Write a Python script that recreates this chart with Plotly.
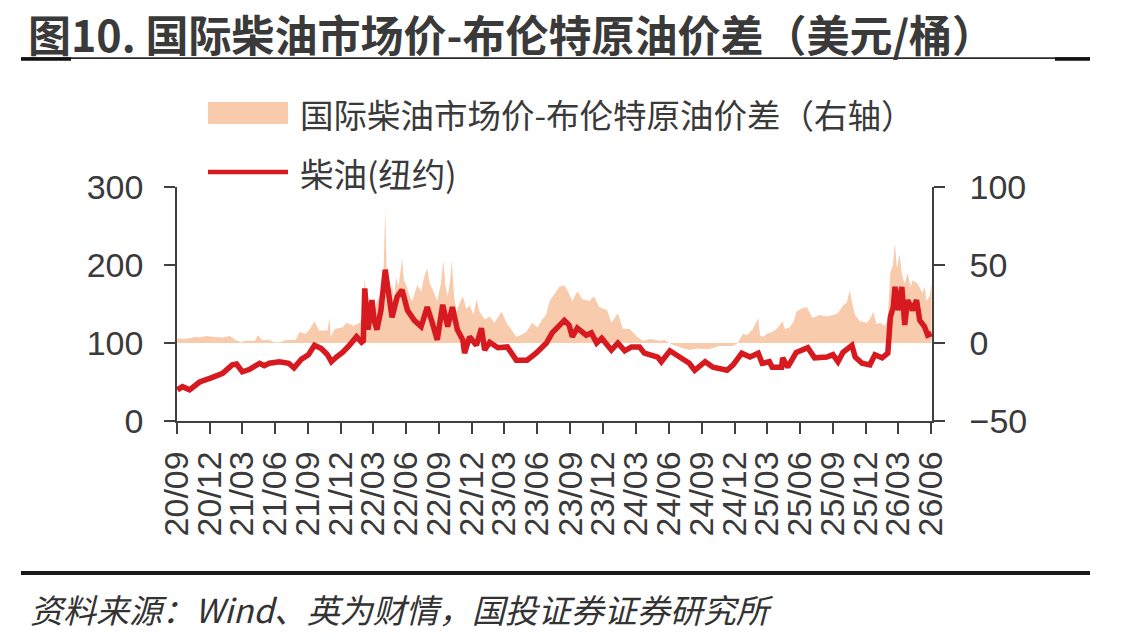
import plotly.graph_objects as go

# ---------------- data ----------------
diesel_dates = [
    "2020-09-01", "2020-09-15", "2020-10-05", "2020-11-02", "2020-12-08", "2021-01-05",
    "2021-02-01", "2021-02-13", "2021-03-01", "2021-03-20", "2021-04-18", "2021-05-01",
    "2021-05-15", "2021-06-12", "2021-07-08", "2021-07-23", "2021-08-12", "2021-09-01",
    "2021-09-18", "2021-10-07", "2021-10-24", "2021-11-04", "2021-11-18", "2021-12-05",
    "2021-12-24", "2022-01-13", "2022-01-27", "2022-02-01", "2022-02-05", "2022-02-14",
    "2022-02-25", "2022-03-03", "2022-03-11", "2022-03-22", "2022-04-03", "2022-04-14",
    "2022-04-22", "2022-05-06", "2022-05-20", "2022-06-04", "2022-06-23", "2022-07-12",
    "2022-07-29", "2022-08-12", "2022-08-26", "2022-09-10", "2022-09-24", "2022-10-07",
    "2022-10-21", "2022-11-05", "2022-11-10", "2022-11-24", "2022-12-13", "2022-12-27",
    "2023-01-05", "2023-01-19", "2023-02-11", "2023-03-09", "2023-04-03", "2023-05-03",
    "2023-05-28", "2023-06-26", "2023-07-12", "2023-08-15", "2023-08-28", "2023-09-06",
    "2023-09-20", "2023-10-15", "2023-10-29", "2023-11-13", "2023-11-27", "2023-12-24",
    "2024-01-11", "2024-01-30", "2024-02-18", "2024-03-11", "2024-03-25", "2024-05-01",
    "2024-05-11", "2024-06-04", "2024-07-01", "2024-07-28", "2024-08-12", "2024-09-10",
    "2024-10-02", "2024-11-10", "2024-11-27", "2024-12-21", "2025-01-13", "2025-02-05",
    "2025-02-16", "2025-03-08", "2025-03-16", "2025-04-11", "2025-04-14", "2025-04-28",
    "2025-05-22", "2025-06-23", "2025-07-12", "2025-08-15", "2025-09-01", "2025-09-15",
    "2025-09-29", "2025-10-24", "2025-11-02", "2025-11-21", "2025-12-13", "2025-12-27",
    "2026-01-16", "2026-02-01", "2026-02-08", "2026-02-16", "2026-02-21", "2026-03-01",
    "2026-03-12", "2026-03-20", "2026-03-28", "2026-04-11", "2026-04-22", "2026-05-01",
    "2026-05-14", "2026-05-23", "2026-06-03",
]
diesel_ny = [
    40, 44, 40, 50, 56, 61,
    72, 73, 63, 66, 74, 71,
    74, 76, 74, 68, 79, 85,
    97, 93, 85, 76, 82, 88,
    97, 108, 101, 103, 170, 117,
    155, 129, 117, 142, 194, 151,
    133, 159, 168, 142, 129, 121,
    146, 126, 104, 149, 121, 146,
    117, 104, 87, 108, 97, 119,
    91, 101, 94, 95, 78, 78,
    87, 100, 113, 129, 123, 108,
    119, 110, 113, 100, 106, 91,
    100, 90, 95, 95, 87, 82,
    76, 90, 81, 74, 65, 76,
    69, 65, 72, 87, 82, 87,
    74, 76, 69, 69, 81, 69,
    88, 94, 81, 82, 85, 76,
    88, 97, 82, 74, 72, 85,
    81, 87, 133, 146, 172, 142,
    172, 123, 155, 142, 155, 129,
    121, 110, 112,
]

spread_dates = [
    "2020-09-01", "2020-09-20", "2020-10-05", "2020-10-20", "2020-11-01", "2020-11-20",
    "2020-12-08", "2020-12-25", "2021-01-05", "2021-01-25", "2021-02-10", "2021-02-25",
    "2021-03-10", "2021-04-05", "2021-04-13", "2021-04-25", "2021-05-15", "2021-05-30",
    "2021-06-12", "2021-07-01", "2021-07-28", "2021-08-07", "2021-08-25", "2021-09-05",
    "2021-09-18", "2021-10-01", "2021-10-24", "2021-10-30", "2021-11-02", "2021-11-13",
    "2021-12-05", "2021-12-16", "2022-01-05", "2022-01-22", "2022-01-28", "2022-02-05",
    "2022-02-10", "2022-02-19", "2022-03-03", "2022-03-10", "2022-03-17", "2022-03-28",
    "2022-04-03", "2022-04-08", "2022-04-14", "2022-04-22", "2022-04-27", "2022-05-03",
    "2022-05-10", "2022-05-20", "2022-05-25", "2022-06-01", "2022-06-10", "2022-06-17",
    "2022-07-01", "2022-07-12", "2022-07-20", "2022-07-29", "2022-08-05", "2022-08-12",
    "2022-08-26", "2022-09-05", "2022-09-12", "2022-09-18", "2022-09-24", "2022-10-01",
    "2022-10-05", "2022-10-12", "2022-10-18", "2022-10-28", "2022-11-05", "2022-11-15",
    "2022-11-24", "2022-12-05", "2022-12-13", "2022-12-22", "2023-01-05", "2023-01-19",
    "2023-02-01", "2023-02-10", "2023-02-21", "2023-03-07", "2023-03-20", "2023-04-03",
    "2023-04-15", "2023-05-01", "2023-05-17", "2023-06-01", "2023-06-14", "2023-06-25",
    "2023-07-05", "2023-07-18", "2023-08-01", "2023-08-15", "2023-08-25", "2023-09-06",
    "2023-09-20", "2023-10-05", "2023-10-24", "2023-11-05", "2023-11-20", "2023-12-01",
    "2023-12-12", "2023-12-24", "2024-01-11", "2024-01-25", "2024-02-13", "2024-03-05",
    "2024-03-20", "2024-04-10", "2024-05-06", "2024-05-20", "2024-06-10", "2024-07-05",
    "2024-07-28", "2024-08-20", "2024-09-18", "2024-10-21", "2024-11-27", "2024-12-10",
    "2024-12-24", "2025-01-05", "2025-01-21", "2025-02-05", "2025-02-10", "2025-02-18",
    "2025-03-01", "2025-03-16", "2025-03-28", "2025-04-14", "2025-04-20", "2025-05-03",
    "2025-05-15", "2025-05-22", "2025-06-05", "2025-06-20", "2025-07-06", "2025-07-25",
    "2025-08-15", "2025-09-01", "2025-09-15", "2025-09-29", "2025-10-10", "2025-10-18",
    "2025-10-25", "2025-11-02", "2025-11-15", "2025-12-05", "2025-12-15", "2025-12-22",
    "2026-01-01", "2026-01-10", "2026-01-24", "2026-02-01", "2026-02-08", "2026-02-15",
    "2026-02-21", "2026-02-26", "2026-03-06", "2026-03-12", "2026-03-20", "2026-03-28",
    "2026-04-05", "2026-04-11", "2026-04-25", "2026-05-08", "2026-05-15", "2026-05-19",
    "2026-05-28", "2026-06-03",
]
spread_vals = [
    3, 2.5, 3, 4, 3.5, 4.5,
    4, 3.5, 3.5, 4.5, 2, 0.5,
    1.5, 1.5, 5, 2, 2, 0.5,
    0.5, 2, 2, 7, 6, 9,
    14, 8, 8, 16, 4, 9,
    10, 13, 11, 13, 16, 42,
    24, 28, 20, 26, 30, 35,
    86, 35, 30, 38, 28, 42,
    36, 54, 40, 37, 30, 27,
    37, 33, 42, 48, 38, 35,
    27, 38, 53, 36, 30, 40,
    53, 30, 20, 26, 30, 22,
    24, 18, 28, 20, 15, 17,
    13, 16, 20, 13, 9, 4,
    5, 7, 13, 10, 15, 18,
    27, 31, 36, 37, 33, 27,
    33, 28, 27, 30, 23, 22,
    21, 13, 19, 9, 9, 4,
    1.5, 2.5, 1.5, 2, -1, -3,
    -4.5, -3.5, -4, -2, -2, 0,
    6, 5, 9, 16, 5, 4,
    6, 7, 9, 14, 9, 10,
    14, 20, 22, 23, 16, 18,
    17, 18, 19, 24, 26, 34,
    25, 18, 14, 13, 16, 20,
    12, 13, 11, 16, 45, 50,
    64, 48, 57, 44, 38, 45,
    36, 40, 38, 32, 36, 27,
    30, 38,
]

tick_dates = [
    "2020-09-01", "2020-12-01", "2021-03-01", "2021-06-01", "2021-09-01", "2021-12-01",
    "2022-03-01", "2022-06-01", "2022-09-01", "2022-12-01", "2023-03-01", "2023-06-01",
    "2023-09-01", "2023-12-01", "2024-03-01", "2024-06-01", "2024-09-01", "2024-12-01",
    "2025-03-01", "2025-06-01", "2025-09-01", "2025-12-01", "2026-03-01", "2026-06-01",
]
tick_labels = [
    "20/09", "20/12", "21/03", "21/06", "21/09", "21/12",
    "22/03", "22/06", "22/09", "22/12", "23/03", "23/06",
    "23/09", "23/12", "24/03", "24/06", "24/09", "24/12",
    "25/03", "25/06", "25/09", "25/12", "26/03", "26/06",
]

title_text = "图10. 国际柴油市场价-布伦特原油价差（美元/桶）"
legend_area = "国际柴油市场价-布伦特原油价差（右轴）"
legend_line = "柴油(纽约)"
source_text = "资料来源：Wind、英为财情，国投证券证券研究所"

# ---------------- layout helpers ----------------
W, H = 1137, 644
L, R, T, B = 177, 932, 187, 421


def xp(px):
    return (px - L) / (R - L)


def yp(py):
    return (B - py) / (B - T)


AREA_COLOR = "#F8CBAD"
LINE_COLOR = "#D71920"
AX_COLOR = "#404040"
TXT_COLOR = "#3a3a3a"
NUM_FONT = "Arial, Liberation Sans, sans-serif"
CJK_FONT = "Noto Sans CJK SC"

fig = go.Figure()
fig.add_trace(go.Scatter(
    x=spread_dates, y=spread_vals, yaxis="y", mode="lines",
    fill="tozeroy", fillcolor=AREA_COLOR,
    line=dict(width=0, color=AREA_COLOR), name=legend_area, hoverinfo="skip",
))
fig.add_trace(go.Scatter(
    x=diesel_dates, y=diesel_ny, yaxis="y2", mode="lines",
    line=dict(width=5.5, color=LINE_COLOR), name=legend_line,
))

axis_common = dict(
    showline=True, linecolor=AX_COLOR, linewidth=1.5,
    ticks="outside", ticklen=11, tickwidth=1.5, tickcolor=AX_COLOR,
    showgrid=False, zeroline=False,
    tickfont=dict(family=NUM_FONT, size=34, color=TXT_COLOR),
)

fig.update_layout(
    width=W, height=H, autosize=False,
    margin=dict(l=L, r=W - R, t=T, b=H - B, pad=0),
    paper_bgcolor="white", plot_bgcolor="white",
    showlegend=False,
    xaxis=dict(
        type="date", range=["2020-08-31", "2026-06-04"],
        tickmode="array", tickvals=tick_dates, ticktext=tick_labels,
        tickangle=-90, ticklabelstandoff=4, **axis_common,
    ),
    yaxis=dict(
        side="right", range=[-50, 100], tickmode="array",
        tickvals=[-50, 0, 50, 100], ticklabelstandoff=18, **axis_common,
    ),
    yaxis2=dict(
        side="left", overlaying="y", range=[0, 300], tickmode="array",
        tickvals=[0, 100, 200, 300], ticklabelstandoff=14, **axis_common,
    ),
)

shapes = []
# top rule
shapes.append(dict(type="line", xref="paper", yref="paper", x0=xp(21), x1=xp(1090),
                   y0=yp(58.2), y1=yp(58.2), line=dict(color="#2a2a2a", width=1.7)))
shapes.append(dict(type="line", xref="paper", yref="paper", x0=xp(21), x1=xp(71),
                   y0=yp(59), y1=yp(59), line=dict(color="#111111", width=3.5)))
shapes.append(dict(type="line", xref="paper", yref="paper", x0=xp(1055), x1=xp(1090),
                   y0=yp(59), y1=yp(59), line=dict(color="#111111", width=3.5)))
# bottom rule
shapes.append(dict(type="line", xref="paper", yref="paper", x0=xp(21), x1=xp(1090),
                   y0=yp(573), y1=yp(573), line=dict(color="#1a1a1a", width=4)))
# legend swatches
shapes.append(dict(type="rect", xref="paper", yref="paper", x0=xp(208), x1=xp(288),
                   y0=yp(124), y1=yp(102), fillcolor=AREA_COLOR, line=dict(width=0)))
shapes.append(dict(type="line", xref="paper", yref="paper", x0=xp(208), x1=xp(288),
                   y0=yp(172), y1=yp(172), line=dict(color=LINE_COLOR, width=4.5)))
fig.update_layout(shapes=shapes)

annotations = [
    dict(text=title_text, xref="paper", yref="paper", x=xp(26), y=yp(33),
         xanchor="left", yanchor="middle", showarrow=False,
         font=dict(family=CJK_FONT, size=43, color="#3a3a3a", weight="bold")),
    dict(text=legend_area, xref="paper", yref="paper", x=xp(298), y=yp(113),
         xanchor="left", yanchor="middle", showarrow=False,
         font=dict(family=CJK_FONT, size=33.5, color=TXT_COLOR)),
    dict(text=legend_line, xref="paper", yref="paper", x=xp(298), y=yp(172),
         xanchor="left", yanchor="middle", showarrow=False,
         font=dict(family=CJK_FONT, size=33.5, color=TXT_COLOR)),
    dict(text="<i>" + source_text + "</i>", xref="paper", yref="paper", x=xp(28), y=yp(609),
         xanchor="left", yanchor="middle", showarrow=False,
         font=dict(family=CJK_FONT, size=33, color="#333333")),
]
fig.update_layout(annotations=annotations)

fig.write_html("out.html")
